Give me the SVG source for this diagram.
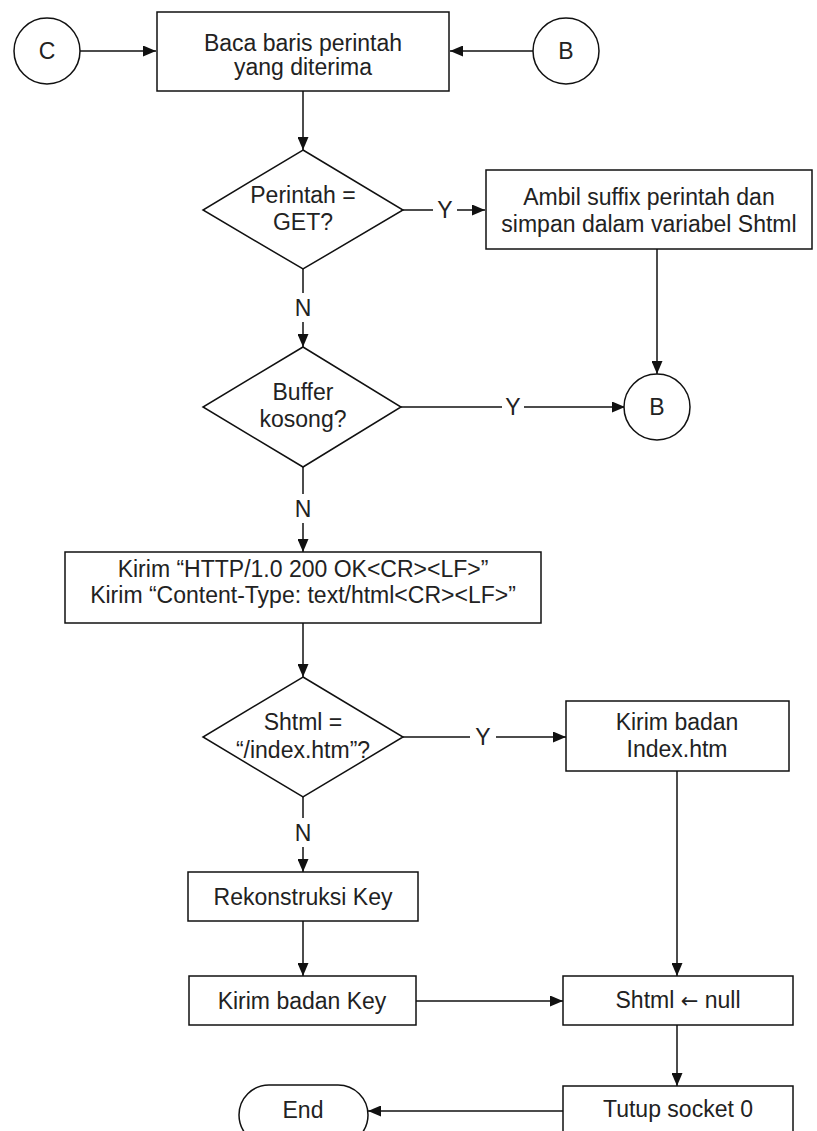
<svg xmlns="http://www.w3.org/2000/svg" width="817" height="1131" viewBox="0 0 817 1131">
  <defs>
    <marker id="arrow" viewBox="0 0 13 11" refX="13" refY="5.5" markerWidth="13" markerHeight="11" markerUnits="userSpaceOnUse" orient="auto">
      <path d="M0,0 L13,5.5 L0,11 Z" fill="#111"/>
    </marker>
    <style>
      .shape { fill: #fff; stroke: #111; stroke-width: 1.5; }
      .edge { fill: none; stroke: #111; stroke-width: 1.5; }
      .arr { marker-end: url(#arrow); }
      text { font-family: "Liberation Sans", Arial, sans-serif; font-size: 23px; fill: #222; text-anchor: middle; }
      .sym { font-family: "DejaVu Sans", sans-serif; font-size: 21px; }
    </style>
  </defs>
  <rect width="817" height="1131" fill="#fff"/>

  <!-- connectors -->
  <g id="connectors">
    <line class="edge arr" x1="80" y1="51" x2="156" y2="51"/>
    <line class="edge arr" x1="533" y1="51" x2="450" y2="51"/>
    <line class="edge arr" x1="303" y1="91" x2="303" y2="150"/>
    <!-- GET? yes -->
    <line class="edge" x1="403" y1="210" x2="433" y2="210"/>
    <text x="445" y="218">Y</text>
    <line class="edge arr" x1="457" y1="210" x2="485" y2="210"/>
    <!-- GET? no -->
    <line class="edge" x1="303" y1="269" x2="303" y2="293"/>
    <text x="303" y="316">N</text>
    <line class="edge arr" x1="303" y1="322" x2="303" y2="347"/>
    <!-- suffix box down to B -->
    <line class="edge arr" x1="657" y1="249" x2="657" y2="374"/>
    <!-- buffer empty? yes -->
    <line class="edge" x1="401" y1="407" x2="502" y2="407"/>
    <text x="513" y="415">Y</text>
    <line class="edge arr" x1="524" y1="407" x2="625" y2="407"/>
    <!-- buffer empty? no -->
    <line class="edge" x1="303" y1="467" x2="303" y2="494"/>
    <text x="303" y="517">N</text>
    <line class="edge arr" x1="303" y1="523" x2="303" y2="552"/>
    <line class="edge arr" x1="303" y1="623" x2="303" y2="677"/>
    <!-- index.htm? yes -->
    <line class="edge" x1="403" y1="737" x2="470" y2="737"/>
    <text x="483" y="745">Y</text>
    <line class="edge arr" x1="496" y1="737" x2="566" y2="737"/>
    <!-- index.htm? no -->
    <line class="edge" x1="303" y1="797" x2="303" y2="818"/>
    <text x="303" y="841">N</text>
    <line class="edge arr" x1="303" y1="847" x2="303" y2="872"/>
    <line class="edge arr" x1="303" y1="921" x2="303" y2="976"/>
    <line class="edge arr" x1="677" y1="771" x2="677" y2="976"/>
    <line class="edge arr" x1="416" y1="1001" x2="563" y2="1001"/>
    <line class="edge arr" x1="677" y1="1025" x2="677" y2="1086"/>
    <line class="edge arr" x1="563" y1="1111" x2="368" y2="1111"/>
  </g>

  <g id="conn-c">
    <circle class="shape" cx="47" cy="51" r="33"/>
    <text x="47" y="59">C</text>
  </g>

  <g id="conn-b-top">
    <circle class="shape" cx="566" cy="51" r="33"/>
    <text x="566" y="59">B</text>
  </g>

  <g id="read-line">
    <rect class="shape" x="157" y="12" width="292" height="79"/>
    <text x="303" y="51">Baca baris perintah</text>
    <text x="303" y="75">yang diterima</text>
  </g>

  <g id="is-get">
    <polygon class="shape" points="303,150 403,210 303,269 203,210"/>
    <text x="303" y="203">Perintah =</text>
    <text x="303" y="230">GET?</text>
  </g>

  <g id="take-suffix">
    <rect class="shape" x="486" y="170" width="326" height="79"/>
    <text x="649" y="205">Ambil suffix perintah dan</text>
    <text x="649" y="232">simpan dalam variabel Shtml</text>
  </g>

  <g id="buffer-empty">
    <polygon class="shape" points="303,347 401,407 303,467 203,407"/>
    <text x="303" y="400">Buffer</text>
    <text x="303" y="427">kosong?</text>
  </g>

  <g id="conn-b-mid">
    <circle class="shape" cx="657" cy="407" r="33"/>
    <text x="657" y="415">B</text>
  </g>

  <g id="send-header">
    <rect class="shape" x="65" y="552" width="476" height="71"/>
    <text x="303" y="577">Kirim “HTTP/1.0 200 OK&lt;CR&gt;&lt;LF&gt;”</text>
    <text x="303" y="603">Kirim “Content-Type: text/html&lt;CR&gt;&lt;LF&gt;”</text>
  </g>

  <g id="is-index">
    <polygon class="shape" points="303,677 403,737 303,797 203,737"/>
    <text x="303" y="730">Shtml =</text>
    <text x="303" y="758">“/index.htm”?</text>
  </g>

  <g id="send-index">
    <rect class="shape" x="566" y="701" width="223" height="70"/>
    <text x="677" y="730">Kirim badan</text>
    <text x="677" y="757">Index.htm</text>
  </g>

  <g id="rebuild-key">
    <rect class="shape" x="188" y="872" width="230" height="49"/>
    <text x="303" y="905">Rekonstruksi Key</text>
  </g>

  <g id="send-key">
    <rect class="shape" x="189" y="976" width="227" height="49"/>
    <text x="302" y="1009">Kirim badan Key</text>
  </g>

  <g id="clear-shtml">
    <rect class="shape" x="563" y="976" width="230" height="49"/>
    <text x="678" y="1008">Shtml <tspan class="sym">←</tspan> null</text>
  </g>

  <g id="close-socket">
    <rect class="shape" x="563" y="1086" width="230" height="70"/>
    <text x="678" y="1117">Tutup socket 0</text>
  </g>

  <g id="end">
    <rect class="shape" x="239" y="1085" width="129" height="60" rx="30" ry="30"/>
    <text x="303" y="1118">End</text>
  </g>
</svg>
